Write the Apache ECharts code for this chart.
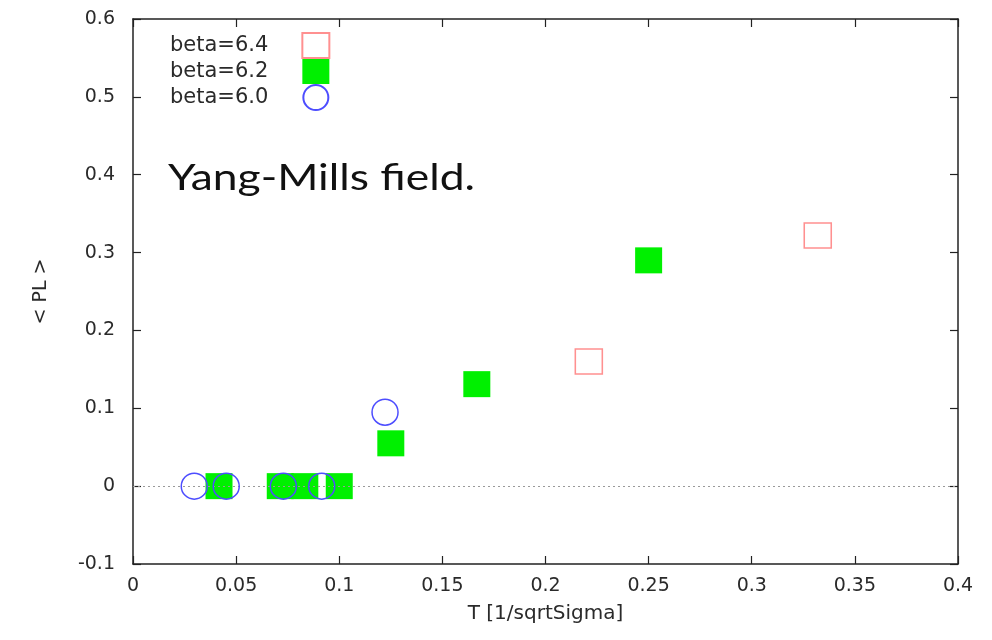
<!DOCTYPE html>
<html>
<head>
<meta charset="utf-8">
<script src="https://cdn.jsdelivr.net/npm/echarts@6/dist/echarts.min.js"></script>
<style>
html,body{margin:0;padding:0;background:#fff;}
#c{width:992px;height:640px;}
</style>
</head>
<body>
<div id="c"></div>
<script>
// beta = 6.4 (open red squares)
const beta64_T = [0.221, 0.332];
const beta64_PL = [0.16, 0.322];
// beta = 6.2 (filled green squares)
const beta62_T = [0.0417, 0.0714, 0.0833, 0.1, 0.125, 0.1667, 0.25];
const beta62_PL = [0, 0, 0, 0, 0.055, 0.131, 0.29];
// beta = 6.0 (open blue circles)
const beta60_T = [0.0297, 0.0452, 0.0729, 0.0915, 0.1222];
const beta60_PL = [0, 0, 0, 0, 0.095];
const seriesNames = ['beta=6.4', 'beta=6.2', 'beta=6.0'];
const xTicks = [0, 0.05, 0.1, 0.15, 0.2, 0.25, 0.3, 0.35, 0.4];
const yTicks = [-0.1, 0, 0.1, 0.2, 0.3, 0.4, 0.5, 0.6];
const xName = 'T [1/sqrtSigma]';
const yName = '< PL >';
const noteText = 'Yang-Mills field.';

const zip = (a, b) => a.map((v, i) => [v, b[i]]);
const FONT = 'DejaVu Sans';
const axisColor = '#222';
const textColor = '#2a2a2a';

const chart = echarts.init(document.getElementById('c'), null, {renderer: 'canvas'});
const baseAxis = {
  axisLine: {show: true, onZero: false, lineStyle: {color: axisColor, width: 1.5}},
  axisTick: {show: true, inside: true, length: 8, lineStyle: {color: axisColor, width: 1.2}},
  splitLine: {show: false}
};
chart.setOption({
  animation: false,
  backgroundColor: '#fff',
  grid: {left: 133, top: 19, width: 825, height: 545, show: false},
  legend: {
    orient: 'vertical', align: 'right', left: 165, top: 27,
    itemWidth: 27, itemHeight: 25, itemGap: 0,
    data: seriesNames,
    textStyle: {fontFamily: FONT, fontSize: 21, color: textColor, padding: [0, 29, 0, 0]}
  },
  xAxis: [
    Object.assign({}, baseAxis, {
      type: 'value', min: 0, max: 0.4, interval: 0.05, position: 'bottom',
      name: xName, nameLocation: 'middle', nameGap: 40,
      nameTextStyle: {fontFamily: FONT, fontSize: 20, color: textColor},
      axisLabel: {fontFamily: FONT, fontSize: 19, color: textColor, margin: 13,
        formatter: v => String(+v.toFixed(2))}
    }),
    Object.assign({}, baseAxis, {
      type: 'value', min: 0, max: 0.4, interval: 0.05, position: 'top',
      axisLabel: {show: false}
    })
  ],
  yAxis: [
    Object.assign({}, baseAxis, {
      type: 'value', min: -0.1, max: 0.6, interval: 0.1, position: 'left',
      name: yName, nameLocation: 'middle', nameGap: 82, nameRotate: 90,
      nameTextStyle: {fontFamily: FONT, fontSize: 19, color: textColor},
      axisLabel: {fontFamily: FONT, fontSize: 19, color: textColor, margin: 18,
        formatter: v => String(+v.toFixed(1))}
    }),
    Object.assign({}, baseAxis, {
      type: 'value', min: -0.1, max: 0.6, interval: 0.1, position: 'right',
      axisLabel: {show: false}
    })
  ],
  series: [
    {
      name: seriesNames[0], type: 'scatter', symbol: 'rect', symbolSize: [27, 25],
      itemStyle: {color: 'rgba(255,255,255,0)', borderColor: '#ff9090', borderWidth: 1.5, opacity: 1},
      data: zip(beta64_T, beta64_PL), z: 3,
      markLine: {
        silent: true, symbol: 'none', label: {show: false},
        lineStyle: {color: '#999', type: [2, 3], width: 1},
        data: [{yAxis: 0}]
      }
    },
    {
      name: seriesNames[1], type: 'scatter', symbol: 'rect', symbolSize: [27, 26],
      itemStyle: {color: '#00f000', opacity: 1},
      data: zip(beta62_T, beta62_PL), z: 4
    },
    {
      name: seriesNames[2], type: 'scatter', symbol: 'circle', symbolSize: 26,
      itemStyle: {color: 'rgba(255,255,255,0)', borderColor: '#4d4dff', borderWidth: 1.5, opacity: 1},
      data: zip(beta60_T, beta60_PL), z: 5
    }
  ],
  graphic: [
    {type: 'text', left: 168, top: 160, z: 10, scaleX: 1.2,
      style: {text: noteText, font: '37px Lato', fill: '#111'}}
  ]
});
</script>
</body>
</html>
